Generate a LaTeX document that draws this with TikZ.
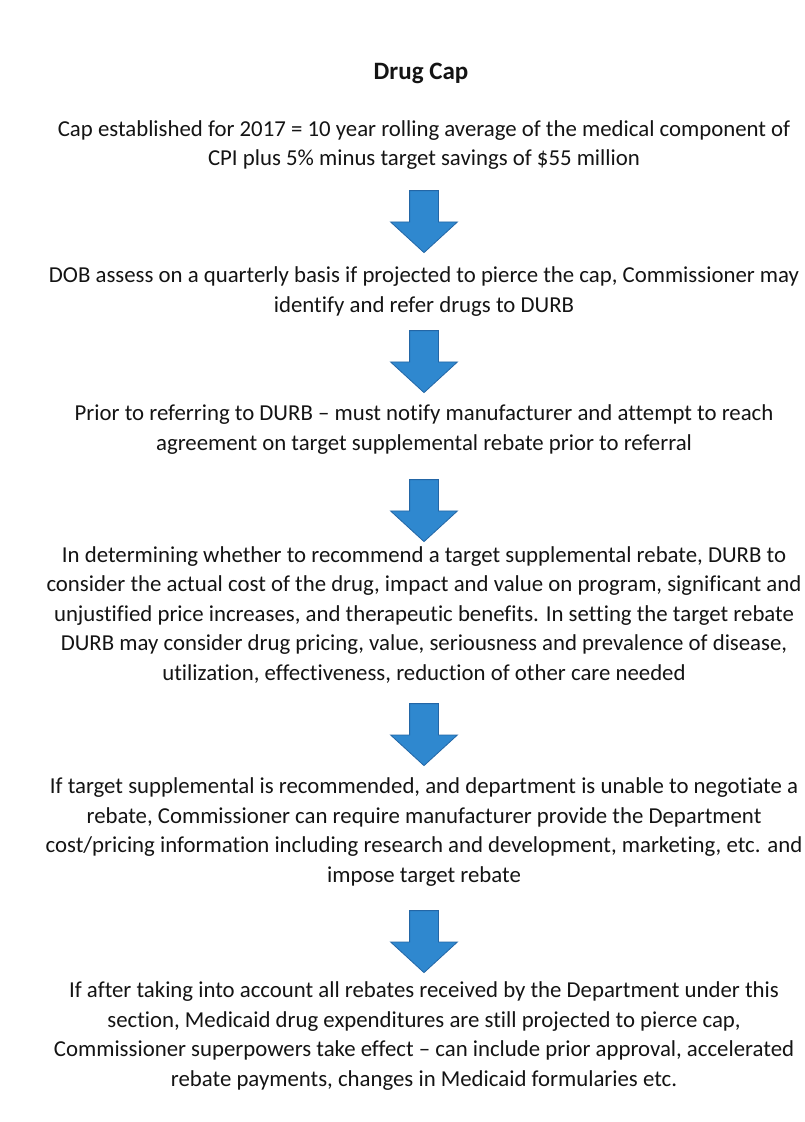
\documentclass[tikz,border=0pt]{standalone}
\usepackage{fontspec}
\setmainfont{Carlito}[Ligatures={NoCommon}]
\usetikzlibrary{shapes.arrows}
\definecolor{arrowblue}{HTML}{2F88CF}
\definecolor{arrowedge}{HTML}{2366A6}
\definecolor{txt}{HTML}{141414}
\tikzset{
  bodytext/.style={align=center, inner sep=0pt, text=txt, font=\fontsize{22.8}{29.5}\selectfont},
  titletext/.style={inner sep=0pt, text=txt, font=\fontsize{25}{30}\selectfont\bfseries},
  blockarrow/.style={single arrow, rotate=-90, draw=arrowedge, line width=0.8pt, fill=arrowblue,
    minimum height=62pt, inner xsep=0pt, inner ysep=14pt, single arrow head extend=19pt,
    single arrow tip angle=95}
}
\begin{document}
\begin{tikzpicture}[x=1pt,y=-1pt]
\useasboundingbox (0,0) rectangle (804,1122);
\fill[white] (0,0) rectangle (804,1122);
\node[titletext] (title) at (421,73) {Drug Cap};
\node[bodytext] (b1) at (424,145) {Cap established for 2017 = 10 year rolling average of the medical component of\\CPI plus 5\% minus target savings of \$55 million};
\node[bodytext] (b2) at (424,291.5) {DOB assess on a quarterly basis if projected to pierce the cap, Commissioner may\\identify and refer drugs to DURB};
\node[bodytext] (b3) at (424,429.5) {Prior to referring to DURB – must notify manufacturer and attempt to reach\\agreement on target supplemental rebate prior to referral};
\node[bodytext] (b4) at (424,615) {In determining whether to recommend a target supplemental rebate, DURB to\\consider the actual cost of the drug, impact and value on program, significant and\\unjustified price increases, and therapeutic benefits. In setting the target rebate\\DURB may consider drug pricing, value, seriousness and prevalence of disease,\\utilization, effectiveness, reduction of other care needed};
\node[bodytext] (b5) at (424,832) {If target supplemental is recommended, and department is unable to negotiate a\\rebate, Commissioner can require manufacturer provide the Department\\cost/pricing information including research and development, marketing, etc. and\\impose target rebate};
\node[bodytext] (b6) at (424,1036) {If after taking into account all rebates received by the Department under this\\section, Medicaid drug expenditures are still projected to pierce cap,\\Commissioner superpowers take effect – can include prior approval, accelerated\\rebate payments, changes in Medicaid formularies etc.};
\node[blockarrow] (a1) at (424,215) {};
\node[blockarrow] (a2) at (424,355) {};
\node[blockarrow] (a3) at (424,504) {};
\node[blockarrow] (a4) at (424,728) {};
\node[blockarrow] (a5) at (424,935) {};
\end{tikzpicture}
\end{document}
